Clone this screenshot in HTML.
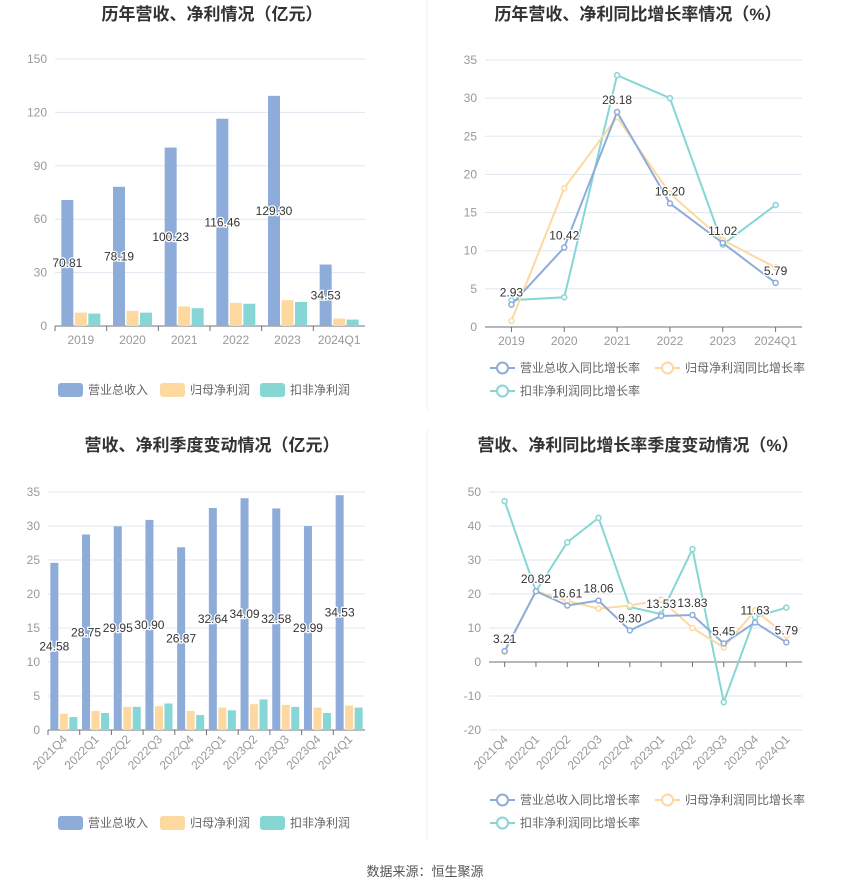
<!DOCTYPE html>
<html><head><meta charset="utf-8"><style>
body{margin:0;background:#fff;}
svg text{font-family:"Liberation Sans","Noto Sans CJK SC",sans-serif;}
</style></head><body>
<svg id="s" width="850" height="891" xmlns="http://www.w3.org/2000/svg">
<line x1="427" y1="0" x2="427" y2="410" stroke="#eee"/>
<line x1="427" y1="430" x2="427" y2="840" stroke="#eee"/>
<text x="212" y="20" text-anchor="middle" font-size="17" font-weight="bold" fill="#333">历年营收、净利情况（亿元）</text>
<text x="638" y="20" text-anchor="middle" font-size="17" font-weight="bold" fill="#333">历年营收、净利同比增长率情况（%）</text>
<text x="212" y="451" text-anchor="middle" font-size="17" font-weight="bold" fill="#333">营收、净利季度变动情况（亿元）</text>
<text x="638" y="451" text-anchor="middle" font-size="17" font-weight="bold" fill="#333">营收、净利同比增长率季度变动情况（%）</text>
<text x="425" y="876" text-anchor="middle" font-size="13" fill="#555">数据来源：恒生聚源</text>
<g id="g"></g>
</svg>
<script>
const annualCats=["2019","2020","2021","2022","2023","2024Q1"];
const annualRev=[70.81,78.19,100.23,116.46,129.30,34.53];
const annualNet=[7.5,8.5,11,13,14.5,4.2];
const annualDed=[7,7.5,10,12.5,13.5,3.6];
const annualTicks=[0,30,60,90,120,150];
const annualRevG=[2.93,10.42,28.18,16.20,11.02,5.79];
const annualNetG=[0.8,18.2,27.5,17.5,11.4,7.8];
const annualDedG=[3.5,3.9,33,30,10.8,16];
const annualGTicks=[0,5,10,15,20,25,30,35];
const qCats=["2021Q4","2022Q1","2022Q2","2022Q3","2022Q4","2023Q1","2023Q2","2023Q3","2023Q4","2024Q1"];
const qRev=[24.58,28.75,29.95,30.90,26.87,32.64,34.09,32.58,29.99,34.53];
const qNet=[2.4,2.8,3.4,3.5,2.8,3.3,3.8,3.7,3.3,3.6];
const qDed=[1.9,2.5,3.4,3.9,2.2,2.9,4.5,3.4,2.5,3.3];
const qTicks=[0,5,10,15,20,25,30,35];
const qRevG=[3.21,20.82,16.61,18.06,9.30,13.53,13.83,5.45,11.63,5.79];
const qNetG=[3.0,20.8,18.0,15.7,16.6,18.3,10.0,4.3,15.2,7.8];
const qDedG=[47.3,20.8,35.2,42.4,16.2,14.1,33.2,-11.8,13.2,16.0];
const qGTicks=[-20,-10,0,10,20,30,40,50];

const C1="#8eacd9",C2="#fdd9a0",C3="#86d6d6";
const NS="http://www.w3.org/2000/svg";
const G=document.getElementById('g');
function mk(t,a,txt){const e=document.createElementNS(NS,t);for(const k in a)e.setAttribute(k,a[k]);if(txt!=null)e.textContent=txt;G.appendChild(e);return e;}

function axes(x0,x1,yTop,yBot,ticks,cats,rot,name,lineMode){
  const mn=ticks[0],mx=ticks[ticks.length-1];
  const y=v=>yBot-(v-mn)/(mx-mn)*(yBot-yTop);
  ticks.forEach(t=>{
    const l=mk('line',{x1:x0,x2:x1,y1:y(t),y2:y(t),stroke:"#e0e6f1"});
    
    const tx=mk('text',{x:x0-8,y:y(t)+4,'text-anchor':'end','font-size':12,fill:'#999'},String(t));
    
  });
  const zy=y(Math.max(0,mn));
  const ax=mk('line',{x1:x0,x2:x1,y1:zy,y2:zy,stroke:"#6e7079"});
  
  const bw=(x1-x0)/cats.length;
  const cx=i=>x0+bw*(i+0.5);
  cats.forEach((c,i)=>{
    const tk=mk('line',{x1:lineMode?cx(i):x0+bw*i,x2:lineMode?cx(i):x0+bw*i,y1:zy,y2:zy+5,stroke:"#6e7079"});
    
    let t;
    if(rot){t=mk('text',{x:cx(i)+4,y:yBot+10,'text-anchor':'end','font-size':12,fill:'#999',transform:`rotate(-45 ${cx(i)+4} ${yBot+10})`},c);}
    else t=mk('text',{x:cx(i),y:yBot+18,'text-anchor':'middle','font-size':12,fill:'#999'},c);
    
  });
  return {y,cx,bw};
}
function label(x,yy,s,name){
  const t=mk('text',{x:x,y:yy,'text-anchor':'middle','font-size':12,fill:'#333',stroke:'#fff','stroke-width':2.5,'paint-order':'stroke'},s);
  
}
function bars(x0,x1,yTop,yBot,ticks,cats,series,bwid,rot,name){
  const a=axes(x0,x1,yTop,yBot,ticks,cats,rot,name,false);
  const cols=[C1,C2,C3];const gap=1.5;const tot=3*bwid+2*gap;
  series.forEach((s,k)=>s.forEach((v,i)=>{
    const xl=a.cx(i)-tot/2+k*(bwid+gap);
    const r=mk('rect',{x:xl,y:a.y(v),width:bwid,height:a.y(0)-a.y(v),fill:cols[k]});
    
    
  }));
  series[0].forEach((v,i)=>{label(a.cx(i)-tot/2+bwid/2,(a.y(v)+a.y(0))/2+4,v.toFixed(2),name+'-value-label');});
}
function lines(x0,x1,yTop,yBot,ticks,cats,series,rot,name){
  const a=axes(x0,x1,yTop,yBot,ticks,cats,rot,name,true);
  const cols=[C1,C2,C3];
  [2,1,0].forEach(k=>{
    const s=series[k];
    const p=mk('polyline',{points:s.map((v,i)=>a.cx(i)+','+a.y(v)).join(' '),fill:'none',stroke:cols[k],'stroke-width':2});
    
    
    s.forEach((v,i)=>{const c=mk('circle',{cx:a.cx(i),cy:a.y(v),r:2.5,fill:'#fff',stroke:cols[k],'stroke-width':1.5});
      });
  });
  series[0].forEach((v,i)=>label(a.cx(i),a.y(v)-8,v.toFixed(2),name+'-value-label'));
}
function barLegend(cx,yy,name){
  const items=["营业总收入","归母净利润","扣非净利润"],cols=[C1,C2,C3];
  const xs=[cx-152,cx-50,cx+50];
  items.forEach((t,i)=>{
    const r=mk('rect',{x:xs[i],y:yy-7,width:25,height:14,rx:3,fill:cols[i]});
    
    const tx=mk('text',{x:xs[i]+30,y:yy+4,'font-size':12,fill:'#666'},t);
    
  });
}
function lineLegend(x,yy,name){
  const items=["营业总收入同比增长率","归母净利润同比增长率","扣非净利润同比增长率"],cols=[C1,C2,C3];
  const pos=[[x,yy],[x+165,yy],[x,yy+23]];
  items.forEach((t,i)=>{
    const [px,py]=pos[i];
    const l=mk('line',{x1:px,x2:px+25,y1:py,y2:py,stroke:cols[i],'stroke-width':2});
    
    const c=mk('circle',{cx:px+12.5,cy:py,r:5.5,fill:'#fff',stroke:cols[i],'stroke-width':2});
    
    const tx=mk('text',{x:px+30,y:py+4,'font-size':12,fill:'#666'},t);
    
  });
}
bars(55,365,59,326,annualTicks,annualCats,[annualRev,annualNet,annualDed],12,false,'annual-amount');
barLegend(210,390,'annual-amount');
lines(485,802,60,327,annualGTicks,annualCats,[annualRevG,annualNetG,annualDedG],false,'annual-growth');
lineLegend(490,368,'annual-growth');
bars(48,365,492,730,qTicks,qCats,[qRev,qNet,qDed],8,true,'quarter-amount');
barLegend(210,823,'quarter-amount');
lines(489,802,492,730,qGTicks,qCats,[qRevG,qNetG,qDedG],true,'quarter-growth');
lineLegend(490,800,'quarter-growth');
</script>
</body></html>
